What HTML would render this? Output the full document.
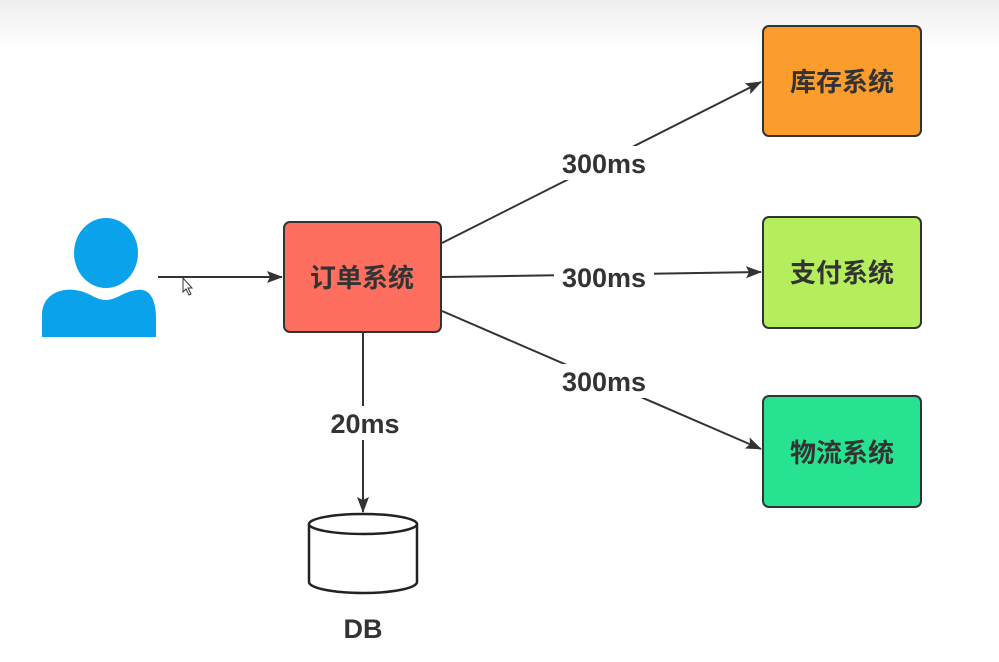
<!DOCTYPE html>
<html><head><meta charset="utf-8"><style>
html,body{margin:0;padding:0;width:999px;height:662px;overflow:hidden;background:#fff}
text{font-family:"Liberation Sans","Noto Sans CJK SC",sans-serif;font-weight:bold}
</style></head><body>
<svg width="999" height="662" xmlns="http://www.w3.org/2000/svg">
<defs>
<linearGradient id="g" x1="0" y1="0" x2="0" y2="1"><stop offset="0" stop-color="#eeeeee"/><stop offset="1" stop-color="#ffffff"/></linearGradient>
<marker id="b" markerWidth="16" markerHeight="12" refX="15" refY="6" orient="auto" markerUnits="userSpaceOnUse"><path d="M0,0 L16,6 L0,12 L3,6 z" fill="#333"/></marker>
</defs>
<rect x="0" y="0" width="999" height="48" fill="url(#g)"/>
<ellipse cx="106" cy="253" rx="32" ry="35" fill="#0aa2ea"/>
<path d="M42,337 L42,315 C42,295 60,288 75,290 C90,292 95,300 106,300 C117,300 122,292 137,290 C150,288 156,300 156,318 L156,337 Z" fill="#0aa2ea"/>
<g stroke="#333" stroke-width="2" fill="none">
<line x1="158" y1="277" x2="282" y2="277" marker-end="url(#b)"/>
<line x1="442" y1="243" x2="761" y2="82" marker-end="url(#b)"/>
<line x1="442" y1="277" x2="761" y2="272" marker-end="url(#b)"/>
<line x1="442" y1="311" x2="761" y2="449" marker-end="url(#b)"/>
<line x1="363" y1="333" x2="363" y2="512" marker-end="url(#b)"/>
</g>
<g stroke="#333" stroke-width="2">
<rect x="284" y="222" width="157" height="110" rx="6" fill="#fe6f5f"/>
<rect x="763" y="26" width="158" height="110" rx="6" fill="#fb9c2c"/>
<rect x="763" y="217" width="158" height="111" rx="6" fill="#b4ee5c"/>
<rect x="763" y="396" width="158" height="111" rx="6" fill="#27e291"/>
</g>
<g font-size="26" fill="#333" text-anchor="middle">
<text x="362" y="287">订单系统</text>
<text x="842" y="91">库存系统</text>
<text x="842" y="282">支付系统</text>
<text x="842" y="462">物流系统</text>
</g>
<g font-size="27" fill="#333" text-anchor="middle">
<rect x="554" y="146" width="100" height="34" fill="#fff"/>
<text x="604" y="173">300ms</text>
<rect x="554" y="260" width="100" height="34" fill="#fff"/>
<text x="604" y="287">300ms</text>
<rect x="554" y="364" width="100" height="34" fill="#fff"/>
<text x="604" y="391">300ms</text>
<rect x="322" y="406" width="86" height="34" fill="#fff"/>
<text x="365" y="433">20ms</text>
<text x="363" y="638">DB</text>
</g>
<g stroke="#222" stroke-width="2.5" fill="#fff">
<path d="M309,524 L309,582 A54,11 0 0 0 417,582 L417,524"/>
<ellipse cx="363" cy="524" rx="54" ry="10"/>
</g>
<path d="M183,278 L183,292 L186,289 L189,295 L191,294 L188,288 L192,288 Z" fill="#fff" stroke="#333" stroke-width="1"/>
</svg>
</body></html>
